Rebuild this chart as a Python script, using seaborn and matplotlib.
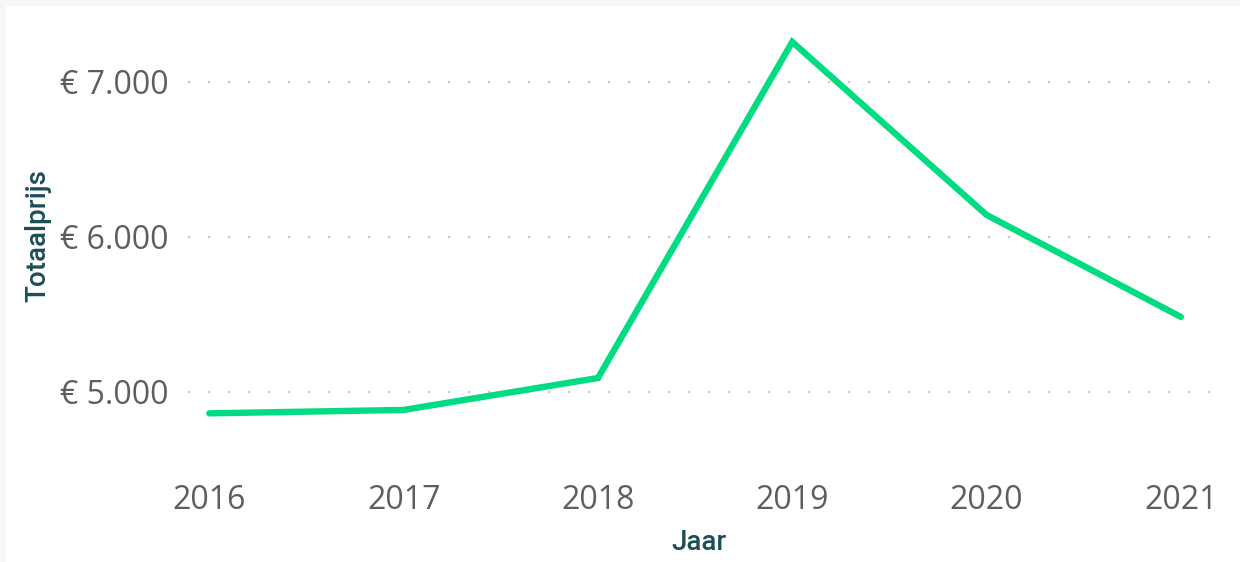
import matplotlib
matplotlib.use("Agg")
import matplotlib.pyplot as plt
import seaborn as sns
import pandas as pd
from matplotlib.patches import Rectangle
from matplotlib.ticker import FuncFormatter


# -----------------------------
# Data
# -----------------------------
jaren = ["2016", "2017", "2018", "2019", "2020", "2021"]
totaalprijs = [4862, 4884, 5090, 7258, 6142, 5484]

df = pd.DataFrame({"Jaar": jaren, "Totaalprijs": totaalprijs})


# -----------------------------
# Style
# -----------------------------
sns.set_style("white")
plt.rcParams["font.family"] = ["Open Sans", "DejaVu Sans"]

tick_color = "#605E5C"
label_color = "#1D4E57"
line_color = "#01DC82"


# -----------------------------
# Plot
# -----------------------------
fig = plt.figure(figsize=(12.4, 5.62), dpi=100, facecolor="#F6F6F6")
# white card with a faint grey edge on top and left
fig.patches.append(Rectangle((6 / 1240, 0), 1, 1 - 6 / 562,
                             transform=fig.transFigure, facecolor="white",
                             edgecolor="none", zorder=-10))

ax = fig.add_axes([188 / 1240, 1 - 440 / 562, (1210 - 188) / 1240, 410 / 562])
ax.set_facecolor("none")
ax.set_zorder(5)

sns.lineplot(data=df, x="Jaar", y="Totaalprijs", ax=ax, color=line_color,
             linewidth=4.6, solid_capstyle="round", solid_joinstyle="miter",
             sort=False)

ax.set_xlim(-0.11, 5.15)
ax.set_ylim(4690, 7335)
ax.set_yticks([5000, 6000, 7000])
ax.yaxis.set_major_formatter(
    FuncFormatter(lambda v, p: "€ " + f"{int(v):,}".replace(",", ".")))

ax.grid(axis="y", color="#C8C8C8", linestyle=(0, (1, 8)), linewidth=1.6)
ax.grid(axis="x", visible=False)
for s in ax.spines.values():
    s.set_visible(False)

ax.tick_params(axis="both", length=0, labelsize=23, labelcolor=tick_color)
ax.tick_params(axis="y", pad=14)
ax.tick_params(axis="x", pad=32)

title_font = {"family": ["Roboto", "DejaVu Sans"], "weight": "medium",
              "size": 20, "color": label_color}
ax.set_xlabel("Jaar", fontdict=title_font, labelpad=8)
ax.set_ylabel("Totaalprijs", fontdict=title_font, labelpad=6)

plt.savefig("out.png", dpi=100, facecolor=fig.get_facecolor())
